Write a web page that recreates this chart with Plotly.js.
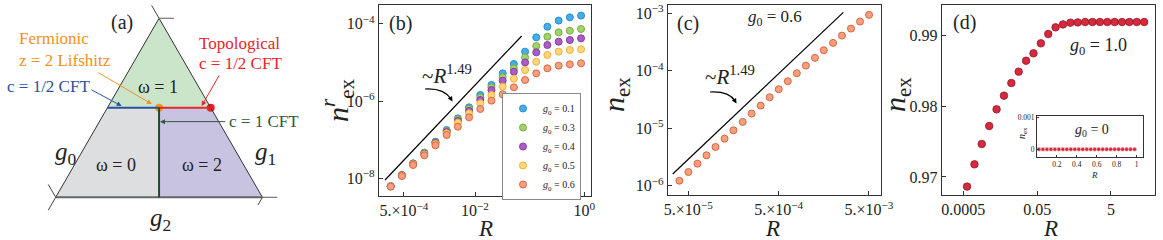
<!DOCTYPE html>
<html><head><meta charset="utf-8">
<script src="https://cdn.plot.ly/plotly-3.0.1.min.js"></script>
<style>html,body{margin:0;padding:0;background:#fff}#chart{width:1163px;height:240px}</style>
</head><body><div id="chart"></div>
<script>
// ---------------- data ----------------
// panel (b)
const R_b = [2.87e-4, 4.60e-4, 7.38e-4, 1.18e-3, 1.89e-3, 3.03e-3, 4.86e-3, 7.79e-3, 1.25e-2, 2.00e-2, 3.21e-2, 5.14e-2, 8.24e-2, 0.132, 0.211, 0.339, 0.543, 0.871];
const n_b_g01 = [6.28e-9, 1.21e-8, 2.43e-8, 4.59e-8, 8.84e-8, 1.77e-7, 3.56e-7, 6.85e-7, 1.43e-6, 2.60e-6, 5.21e-6, 9.10e-6, 1.90e-5, 4.46e-5, 8.43e-5, 1.21e-4, 1.47e-4, 1.63e-4];
const n_b_g03 = [6.15e-9, 1.21e-8, 2.38e-8, 4.50e-8, 8.49e-8, 1.67e-7, 3.35e-7, 6.21e-7, 1.24e-6, 2.26e-6, 4.10e-6, 7.02e-6, 1.35e-5, 2.66e-5, 4.64e-5, 6.01e-5, 6.64e-5, 7.33e-5];
const n_b_g04 = [6.15e-9, 1.19e-8, 2.33e-8, 4.32e-8, 8.17e-8, 1.57e-7, 3.03e-7, 5.51e-7, 1.06e-6, 1.93e-6, 3.36e-6, 5.75e-6, 1.00e-5, 1.82e-5, 2.82e-5, 3.44e-5, 3.80e-5, 4.20e-5];
const n_b_g05 = [6.15e-9, 1.16e-8, 2.29e-8, 4.15e-8, 7.69e-8, 1.45e-7, 2.75e-7, 4.79e-7, 8.70e-7, 1.43e-6, 2.35e-6, 3.79e-6, 6.35e-6, 1.04e-5, 1.56e-5, 1.90e-5, 2.10e-5, 2.18e-5];
const n_b_g06 = [6.04e-9, 1.14e-8, 2.20e-8, 3.91e-8, 7.10e-8, 1.32e-7, 2.16e-7, 3.77e-7, 6.21e-7, 1.02e-6, 1.49e-6, 2.26e-6, 3.50e-6, 5.21e-6, 7.02e-6, 8.23e-6, 8.91e-6, 9.46e-6];
const fit_b_R = [2.26e-4, 7.14e-2];
const fit_b_n = [8.97e-9, 4.83e-5];
const legend_b = ["0.1", "0.3", "0.4", "0.5", "0.6"];

// panel (c)
const R_c = [3.98e-5, 5.01e-5, 6.31e-5, 7.94e-5, 1.00e-4, 1.26e-4, 1.58e-4, 2.00e-4, 2.51e-4, 3.16e-4, 3.98e-4, 5.01e-4, 6.31e-4, 7.94e-4, 1.00e-3, 1.26e-3, 1.58e-3, 2.00e-3, 2.51e-3, 3.16e-3, 3.98e-3, 5.01e-3];
const n_c = [1.22e-6, 1.73e-6, 2.42e-6, 3.38e-6, 4.72e-6, 6.59e-6, 9.21e-6, 1.29e-5, 1.80e-5, 2.48e-5, 3.46e-5, 4.77e-5, 6.58e-5, 9.06e-5, 1.23e-4, 1.68e-4, 2.28e-4, 3.06e-4, 4.10e-4, 5.43e-4, 7.19e-4, 9.40e-4];
const fit_c_R = [3.36e-5, 2.60e-3];
const fit_c_n = [1.60e-6, 1.04e-3];

// panel (d)
const R_d = [6.31e-4, 1.00e-3, 1.58e-3, 2.51e-3, 3.98e-3, 6.31e-3, 1.00e-2, 1.58e-2, 2.51e-2, 3.98e-2, 6.31e-2, 0.100, 0.158, 0.251, 0.398, 0.631, 1.00, 1.58, 2.51, 3.98, 6.31, 10.0, 15.8, 25.1, 39.8];
const n_d = [0.96864, 0.97178, 0.97465, 0.97718, 0.97953, 0.98146, 0.98324, 0.98484, 0.98638, 0.98742, 0.98883, 0.99014, 0.99108, 0.99150, 0.99174, 0.99178, 0.99183, 0.99183, 0.99183, 0.99183, 0.99183, 0.99183, 0.99183, 0.99183, 0.99183];
// inset of (d): g0 = 0
const R_inset = [0.02, 0.06, 0.10, 0.14, 0.18, 0.22, 0.26, 0.30, 0.34, 0.38, 0.42, 0.46, 0.50, 0.54, 0.58, 0.62, 0.66, 0.70, 0.74, 0.78, 0.82, 0.86, 0.90, 0.94, 0.98];
const n_inset = [0, 0, 0, 0, 0, 0, 0, 0, 0, 0, 0, 0, 0, 0, 0, 0, 0, 0, 0, 0, 0, 0, 0, 0, 0];

// panel (a): phase diagram in unit-triangle coordinates (equilateral, side 1)
const triA = [0, 0], triB = [1, 0], triC = [0.5, 0.866];
const midLeft = [0.25, 0.433], midCenter = [0.5, 0.433], midRight = [0.75, 0.433], baseCenter = [0.5, 0];

// ---------------- layout helpers ----------------
const W = 1163, H = 240;
const px = x => x / W, py = y => 1 - y / H;
const SERIF = "'Liberation Serif', 'Times New Roman', serif";
const INK = "#222";

const traces = [];
// panel (a) critical points
traces.push({x: [midCenter[0]], y: [midCenter[1]], xaxis: 'x', yaxis: 'y', mode: 'markers', showlegend: false,
  marker: {size: 8, color: '#f7941d', line: {width: 0}}, hoverinfo: 'skip'});
traces.push({x: [midRight[0]], y: [midRight[1]], xaxis: 'x', yaxis: 'y', mode: 'markers', showlegend: false,
  marker: {size: 8, color: '#e8202a', line: {width: 0}}, hoverinfo: 'skip'});

// panel (b)
traces.push({x: fit_b_R, y: fit_b_n, xaxis: 'x2', yaxis: 'y2', mode: 'lines', showlegend: false,
  line: {color: '#000', width: 1.2}});
const seriesB = [n_b_g01, n_b_g03, n_b_g04, n_b_g05, n_b_g06];
const fillsB = ['#44aee8', '#a3d16c', '#ac5cc6', '#fdd67a', '#f3a07f'];
const edgesB = ['#2a8cd0', '#78ad40', '#843c9f', '#efb234', '#de6440'];
seriesB.forEach((ys, i) => {
  traces.push({x: R_b, y: ys, xaxis: 'x2', yaxis: 'y2', mode: 'markers', legend: 'legend',
    name: '<i>g</i><sub>0</sub> = ' + legend_b[i],
    marker: {size: 7, color: fillsB[i], line: {color: edgesB[i], width: 1}}});
});

// panel (c)
traces.push({x: fit_c_R, y: fit_c_n, xaxis: 'x3', yaxis: 'y3', mode: 'lines', showlegend: false,
  line: {color: '#000', width: 1.2}});
traces.push({x: R_c, y: n_c, xaxis: 'x3', yaxis: 'y3', mode: 'markers', showlegend: false,
  marker: {size: 7, color: '#f3a07f', line: {color: '#de6440', width: 1}}});

// panel (d)
traces.push({x: R_d, y: n_d, xaxis: 'x4', yaxis: 'y4', mode: 'markers', showlegend: false,
  marker: {size: 7.5, color: '#d42a3e', line: {color: '#9c1424', width: 0.8}}});
traces.push({x: R_inset, y: n_inset, xaxis: 'x5', yaxis: 'y5', mode: 'markers', showlegend: false,
  marker: {size: 4, color: '#d42a3e', line: {color: '#f3c0c0', width: 0.6}}});

// ---------------- axes ----------------
const tickFont = {family: SERIF, size: 16, color: INK};
function boxAxis(extra) {
  return Object.assign({showline: true, mirror: true, linecolor: '#333', linewidth: 1.2,
    ticks: 'inside', ticklen: 4, tickcolor: '#333', showgrid: false, zeroline: false,
    tickfont: tickFont, automargin: false, fixedrange: true}, extra);
}
const smallTick = {family: SERIF, size: 7.5, color: INK};
const layout = {
  width: W, height: H, margin: {l: 0, r: 0, t: 0, b: 0},
  paper_bgcolor: '#fff', plot_bgcolor: 'rgba(0,0,0,0)',
  font: {family: SERIF, color: INK},
  // panel (a) drawing area: unit triangle mapped at 206.7 px per unit
  xaxis: {domain: [0, px(290)], range: [-0.2695, 1.1335], visible: false, fixedrange: true},
  yaxis: {domain: [0, 1], range: [-0.2066, 0.9545], visible: false, fixedrange: true},
  // panel (b)
  xaxis2: boxAxis({domain: [px(379), px(591)], type: 'log', range: [-3.756, 0.122], anchor: 'y2',
    tickvals: [5e-4, 1e-2, 1], ticktext: ['5.×10<sup>−4</sup>', '10<sup>−2</sup>', '10<sup>0</sup>']}),
  yaxis2: boxAxis({domain: [py(196), py(5)], type: 'log', range: [-8.461, -3.513], anchor: 'x2',
    tickvals: [1e-8, 1e-6, 1e-4], ticktext: ['10<sup>−8</sup>', '10<sup>−6</sup>', '10<sup>−4</sup>']}),
  // panel (c)
  xaxis3: boxAxis({domain: [px(668), px(881)], type: 'log', range: [-4.526, -2.168], anchor: 'y3',
    tickvals: [5e-5, 5e-4, 5e-3], ticktext: ['5.×10<sup>−5</sup>', '5.×10<sup>−4</sup>', '5.×10<sup>−3</sup>']}),
  yaxis3: boxAxis({domain: [py(195), py(5)], type: 'log', range: [-6.162, -2.855], anchor: 'x3',
    tickvals: [1e-6, 1e-5, 1e-4, 1e-3], ticktext: ['10<sup>−6</sup>', '10<sup>−5</sup>', '10<sup>−4</sup>', '10<sup>−3</sup>']}),
  // panel (d)
  xaxis4: boxAxis({domain: [px(942), px(1155)], type: 'log', range: [-3.879, 1.893], anchor: 'y4',
    tickvals: [5e-4, 0.05, 5], ticktext: ['0.0005', '0.05', '5']}),
  yaxis4: boxAxis({domain: [py(195), py(5)], range: [0.96746, 0.99423], anchor: 'x4',
    tickvals: [0.97, 0.98, 0.99], ticktext: ['0.97', '0.98', '0.99']}),
  // inset
  xaxis5: boxAxis({domain: [px(1037), px(1143)], range: [0, 1.065], anchor: 'y5', ticklen: 2,
    tickvals: [0.2, 0.4, 0.6, 0.8, 1], ticktext: ['0.2', '0.4', '0.6', '0.8', '1'],
    tickfont: smallTick, linewidth: 1}),
  yaxis5: boxAxis({domain: [py(157), py(116)], range: [-0.00024, 0.00104], anchor: 'x5', ticklen: 2,
    tickvals: [0, 0.001], ticktext: ['0', '0.001'],
    tickfont: smallTick, linewidth: 1}),
  legend: {x: px(581), y: py(93), xanchor: 'right', yanchor: 'top', bgcolor: '#fff',
    bordercolor: '#888', borderwidth: 1, font: {family: SERIF, size: 10, color: INK},
    itemwidth: 30, tracegroupgap: 0},
  shapes: [], annotations: []
};

// ---------------- panel (a) shapes ----------------
const S = layout.shapes;
function poly(pts, fill) {
  const d = 'M ' + pts.map(p => p[0] + ',' + p[1]).join(' L ') + ' Z';
  S.push({type: 'path', xref: 'x', yref: 'y', path: d, fillcolor: fill, line: {width: 0}, layer: 'below'});
}
function seg(p, q, color, width) {
  S.push({type: 'line', xref: 'x', yref: 'y', x0: p[0], y0: p[1], x1: q[0], y1: q[1], line: {color: color, width: width}});
}
poly([midLeft, midRight, triC], '#cbe5cb');
poly([triA, baseCenter, midCenter, midLeft], '#dcdedf');
poly([baseCenter, triB, midRight, midCenter], '#c8c3e1');
const L = 0.072;
seg(triA, triC, '#333', 1);
seg(triB, triC, '#333', 1);
seg(triA, triB, '#666', 2);
// extensions and corner ticks
seg(triC, [triC[0] - 0.5 * L, triC[1] + 0.866 * L], '#444', 1);
seg(triC, [triC[0] + L, triC[1]], '#777', 1.2);
seg(triA, [triA[0] - 0.5 * L, triA[1] - 0.866 * L], '#444', 1);
seg(triA, [triA[0] - 0.5 * L, triA[1] + 0.866 * L], '#444', 1);
seg(triB, [triB[0] + L, triB[1]], '#777', 1.2);
seg(triB, [triB[0] - 0.5 * L * 0.6, triB[1] - 0.866 * L * 0.6], '#444', 1);
// phase boundaries
seg(midLeft, midCenter, '#2d4f9f', 2);
seg(midCenter, midRight, '#e8262d', 2);
seg(baseCenter, midCenter, '#1f4a2c', 2);

// ---------------- annotations ----------------
const A = layout.annotations;
function txt(text, x, y, size, opts) {
  A.push(Object.assign({text: text, x: px(x), y: py(y), xref: 'paper', yref: 'paper',
    showarrow: false, xanchor: 'center', yanchor: 'middle',
    font: {family: SERIF, size: size, color: INK}}, opts || {}));
}
function arrowTo(x, y, ax, ay, color, xr, yr) {
  A.push({text: '', x: x, y: y, xref: xr || 'x', yref: yr || 'y', ax: ax, ay: ay, showarrow: true,
    arrowhead: 2, arrowsize: 1, arrowwidth: 1, arrowcolor: color});
}
// (a) labels
txt('(a)', 122, 22, 20);
txt('Fermionic', 17, 38, 17, {xanchor: 'left', font: {family: SERIF, size: 17, color: '#f39021'}});
txt('z = 2 Lifshitz', 17, 60, 17, {xanchor: 'left', font: {family: SERIF, size: 17, color: '#f39021'}});
txt('Topological', 197, 43, 17, {xanchor: 'left', font: {family: SERIF, size: 17, color: '#e8242c'}});
txt('c = 1/2 CFT', 197, 64, 17, {xanchor: 'left', font: {family: SERIF, size: 17, color: '#e8242c'}});
txt('c = 1/2 CFT', 5, 86, 17, {xanchor: 'left', font: {family: SERIF, size: 17, color: '#2c4f9e'}});
txt('c = 1 CFT', 227, 121, 17, {xanchor: 'left', font: {family: SERIF, size: 17, color: '#2e5a3c'}});
txt('ω = 1', 158, 87, 18);
txt('ω = 0', 116, 165, 18);
txt('ω = 2', 202, 165, 18);
txt('<i>g</i><sub>0</sub>', 66, 153, 25);
txt('<i>g</i><sub>1</sub>', 265, 153, 25);
txt('<i>g</i><sub>2</sub>', 160, 219, 25);
arrowTo(0.319, 0.4417, -31.7, -17, '#2c4f9e');
arrowTo(0.465, 0.451, -55, -32.3, '#f39021');
arrowTo(0.706, 0.4417, 18.3, -32, '#e8242c');
arrowTo(0.5046, 0.366, 66.7, 0, '#2e5a3c');

// (b)
txt('(b)', 400, 24, 20);
txt('~<i>R</i><sup>1.49</sup>', 447, 74, 21);
txt('<i>n</i><sup><i>r</i></sup><sub>ex</sub>', 337, 100, 30, {textangle: -90});
txt('<i>R</i>', 485, 228, 23);
// (c)
txt('(c)', 688, 23, 20);
txt('~<i>R</i><sup>1.49</sup>', 730, 75, 21);
txt('<i>g</i><sub>0</sub> = 0.6', 775, 18, 17);
txt('<i>n</i><sub>ex</sub>', 616, 95, 30, {textangle: -90});
txt('<i>R</i>', 772, 228, 23);
// (d)
txt('(d)', 964, 22, 20);
txt('<i>g</i><sub>0</sub> = 1.0', 1098, 47, 18);
txt('<i>n</i><sub>ex</sub>', 897, 95, 30, {textangle: -90});
txt('<i>R</i>', 1050, 228, 23);
txt('<i>g</i><sub>0</sub> = 0', 1092, 130, 14);
txt('<i>n</i><sub>ex</sub>', 1022, 133, 10, {textangle: -90});
txt('<i>R</i>', 1094, 175, 9);

// curved arrows in (b) and (c)
function curve(x0, y0, cx, cy, x1, y1) {
  S.push({type: 'path', xref: 'paper', yref: 'paper',
    path: `M ${px(x0)},${py(y0)} Q ${px(cx)},${py(cy)} ${px(x1)},${py(y1)}`,
    line: {color: '#000', width: 1.2}});
}
curve(425, 89, 444, 88, 451, 99);
arrowTo(px(452.5), py(101.5), -3, -5, '#000', 'paper', 'paper');
curve(710, 92, 729, 91, 735, 101);
arrowTo(px(736.5), py(103.5), -3, -5, '#000', 'paper', 'paper');

Plotly.newPlot('chart', traces, layout, {staticPlot: true, displayModeBar: false});
</script></body></html>
